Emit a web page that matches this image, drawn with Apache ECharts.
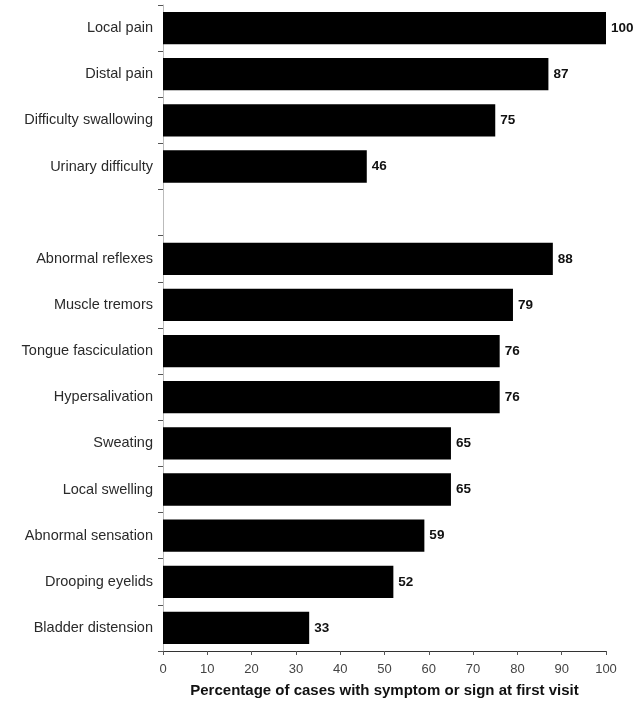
<!DOCTYPE html>
<html>
<head>
<meta charset="utf-8">
<script src="https://cdn.jsdelivr.net/npm/echarts@6/dist/echarts.min.js"></script>
<style>
  html, body { margin: 0; padding: 0; background: #fff; }
  #chart { width: 644px; height: 702px; }
</style>
</head>
<body>
<div id="chart"></div>
<script>
// '' is the empty slot separating the two groups
const categories = [
  'Local pain', 'Distal pain', 'Difficulty swallowing', 'Urinary difficulty', '',
  'Abnormal reflexes', 'Muscle tremors', 'Tongue fasciculation', 'Hypersalivation',
  'Sweating', 'Local swelling', 'Abnormal sensation', 'Drooping eyelids', 'Bladder distension'
];
const percentages = [100, 87, 75, 46, null, 88, 79, 76, 76, 65, 65, 59, 52, 33];
const xTicks = [0, 10, 20, 30, 40, 50, 60, 70, 80, 90, 100];

const chart = echarts.init(document.getElementById('chart'), null, { renderer: 'canvas' });

const option = {
  backgroundColor: '#ffffff',
  animation: false,
  grid: { left: 163, right: 38, top: 5, bottom: 51, outerBoundsMode: 'none', containLabel: false },
  xAxis: {
    type: 'value',
    min: xTicks[0],
    max: xTicks[xTicks.length - 1],
    interval: 10,
    name: 'Percentage of cases with symptom or sign at first visit',
    nameLocation: 'middle',
    nameGap: 32,
    nameTextStyle: { fontFamily: 'Liberation Sans', fontWeight: 'bold', fontSize: 15, color: '#111' },
    axisLine: { show: true, lineStyle: { color: '#333', width: 1 } },
    axisTick: { show: true, length: 4, lineStyle: { color: '#555' } },
    axisLabel: { fontFamily: 'Liberation Sans', fontSize: 13, color: '#444', margin: 12 },
    splitLine: { show: false }
  },
  yAxis: {
    type: 'category',
    data: categories,
    inverse: true,
    axisLine: { show: true, lineStyle: { color: '#bbb', width: 1 } },
    axisTick: { show: true, length: 5, lineStyle: { color: '#555' } },
    axisLabel: { fontFamily: 'Liberation Sans', fontSize: 14.5, color: '#2a2a2a', margin: 10 },
    splitLine: { show: false }
  },
  series: [{
    type: 'bar',
    data: percentages,
    barWidth: '70%',
    itemStyle: { color: '#000' },
    label: {
      show: true,
      position: 'right',
      distance: 5,
      fontFamily: 'Liberation Sans',
      fontWeight: 'bold',
      fontSize: 13.5,
      color: '#111'
    }
  }]
};

chart.setOption(option);
</script>
</body>
</html>
